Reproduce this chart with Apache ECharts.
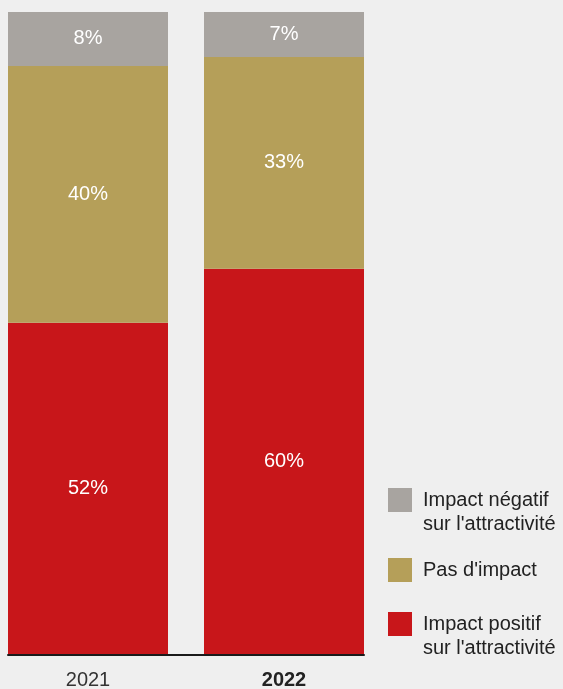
<!DOCTYPE html>
<html><head><meta charset="utf-8">
<script src="https://cdn.jsdelivr.net/npm/echarts@6/dist/echarts.min.js"></script>
<style>html,body{margin:0;padding:0;background:#efefef;}#c{width:563px;height:689px;}</style>
</head><body><div id="c"></div>
<script>
const years = ['2021', '2022'];
const highlightYear = '2022';
const positif = [51.6, 60];
const pasImpact = [40, 33];
const negatif = [8.4, 7];
const names = ["Impact positif\nsur l'attractivité", "Pas d'impact", "Impact négatif\nsur l'attractivité"];
const colors = ['#c8161a', '#b59f59', '#a8a4a0'];

const FONT = '"Liberation Sans", Arial, sans-serif';
const chart = echarts.init(document.getElementById('c'), null, {renderer: 'canvas'});
const lbl = {show: true, position: 'inside', color: '#ffffff', fontSize: 20, fontFamily: FONT, formatter: p => Math.round(p.value) + '%'};
function mkSeries(i, data) {
  return {name: names[i], type: 'bar', stack: 'total', barWidth: 160, data: data,
    itemStyle: {color: colors[i]}, label: lbl, emphasis: {disabled: true}, silent: true};
}
function legend(i, top) {
  return {orient: 'vertical', left: 388, top: top, padding: 0, itemWidth: 24, itemHeight: 24,
    icon: 'rect', selectedMode: false, data: [{name: names[i], itemStyle: {color: colors[i]}}],
    formatter: n => n.indexOf('\n') >= 0 ? '\n' + n : n,
    textStyle: {fontSize: 20, fontFamily: FONT, color: '#222', lineHeight: 24, padding: [0, 0, 0, 6]}};
}
chart.setOption({
  backgroundColor: '#efefef',
  animation: false,
  grid: [{left: -10, right: 181, top: 12, bottom: 35, outerBoundsMode: 'none', containLabel: false},
         {left: 8, right: 199, top: 12, bottom: 34, outerBoundsMode: 'none', containLabel: false}],
  xAxis: [{type: 'category', gridIndex: 0,
           data: years.map(y => y === highlightYear ? {value: y, textStyle: {fontWeight: 'bold', color: '#222'}} : y),
           axisLine: {show: false}, axisTick: {show: false},
           axisLabel: {fontSize: 20, fontFamily: FONT, color: '#333', margin: 16}},
          {type: 'category', gridIndex: 1, data: years, axisLine: {show: true, lineStyle: {color: '#1a1a1a', width: 2}},
           axisTick: {show: false}, axisLabel: {show: false}}],
  yAxis: [{type: 'value', gridIndex: 0, min: 0, max: 100, show: false},
          {type: 'value', gridIndex: 1, min: 0, max: 100, show: false}],
  legend: [legend(2, 464), legend(1, 558), legend(0, 588)],
  series: [mkSeries(0, positif), mkSeries(1, pasImpact), mkSeries(2, negatif)]
});
</script></body></html>
